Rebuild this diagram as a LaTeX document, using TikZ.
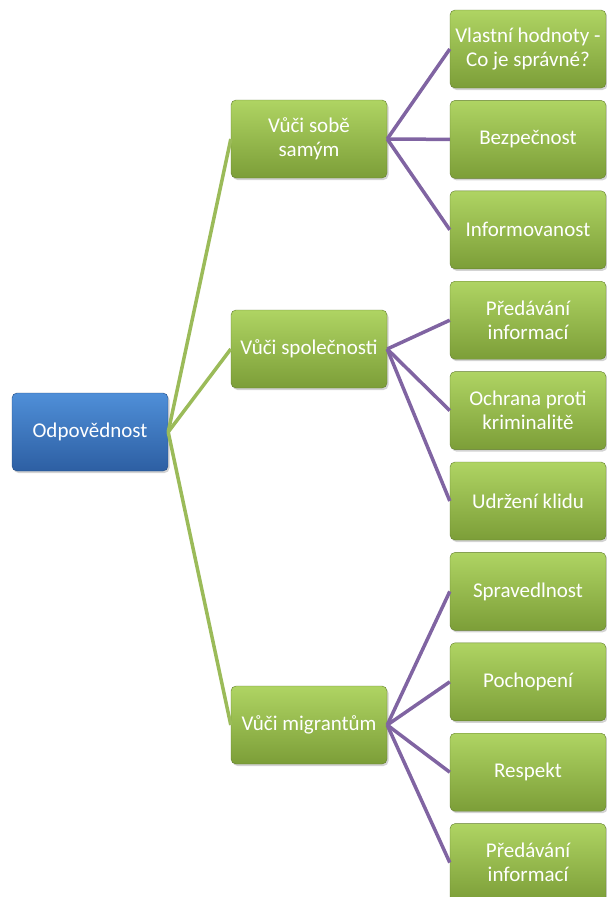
\documentclass[tikz,border=0pt]{standalone}
\usepackage{fontspec}
\setmainfont{Carlito}
\usetikzlibrary{positioning,shadows}
\definecolor{greentop}{HTML}{AFD463}
\definecolor{greenbot}{HTML}{7C9E38}
\definecolor{greenline}{HTML}{9BBB59}
\definecolor{bluetop}{HTML}{4F8FD8}
\definecolor{bluebot}{HTML}{2D5FA3}
\definecolor{purpleline}{HTML}{8064A2}

\begin{document}
\begin{tikzpicture}[x=1pt,y=-1pt]
	\tikzset{box/.style={rounded corners=5pt,minimum width=156pt,minimum height=78pt,
		align=center,text=white,inner sep=0pt,
		font=\fontsize{21}{24}\selectfont,
		drop shadow={shadow xshift=1.5pt,shadow yshift=-2pt,opacity=0.35}}}
	\tikzset{greenbox/.style={box,top color=greentop,bottom color=greenbot,draw=greenbot!80!black,line width=0.4pt}}
	\tikzset{bluebox/.style={box,top color=bluetop,bottom color=bluebot,draw=bluebot!80!black,line width=0.4pt}}
	\tikzset{rootedge/.style={draw=greenline,line width=3.5pt}}
	\tikzset{leafedge/.style={draw=purpleline,line width=3.5pt}}
	\useasboundingbox (0,0) rectangle (606,897);
	% root
	\node[bluebox] (odp) at (90,432) {Odpovědnost};
	% middle level
	\node[greenbox] (sobe) at (309,139) {Vůči sobě\\samým};
	\node[greenbox] (spol) at (309,349) {Vůči společnosti};
	\node[greenbox] (migr) at (309,725) {Vůči migrantům};
	% leaves
	\node[greenbox] (hodn) at (528,49) {Vlastní hodnoty -\\Co je správné?};
	\node[greenbox,below=12pt of hodn] (bezp) {Bezpečnost};
	\node[greenbox,below=12pt of bezp] (info) {Informovanost};
	\node[greenbox,below=12pt of info] (pred) {Předávání\\informací};
	\node[greenbox,below=12pt of pred] (krim) {Ochrana proti\\kriminalitě};
	\node[greenbox,below=12pt of krim] (klid) {Udržení klidu};
	\node[greenbox,below=12pt of klid] (sprav) {Spravedlnost};
	\node[greenbox,below=12pt of sprav] (poch) {Pochopení};
	\node[greenbox,below=12pt of poch] (resp) {Respekt};
	\node[greenbox,below=12pt of resp] (pred2) {Předávání\\informací};
	% connectors
	\foreach \m in {sobe,spol,migr}
		\draw[rootedge] (odp.east) -- (\m.west);
	\foreach \l in {hodn,bezp,info}
		\draw[leafedge] (sobe.east) -- (\l.west);
	\foreach \l in {pred,krim,klid}
		\draw[leafedge] (spol.east) -- (\l.west);
	\foreach \l in {sprav,poch,resp,pred2}
		\draw[leafedge] (migr.east) -- (\l.west);
\end{tikzpicture}
\end{document}
